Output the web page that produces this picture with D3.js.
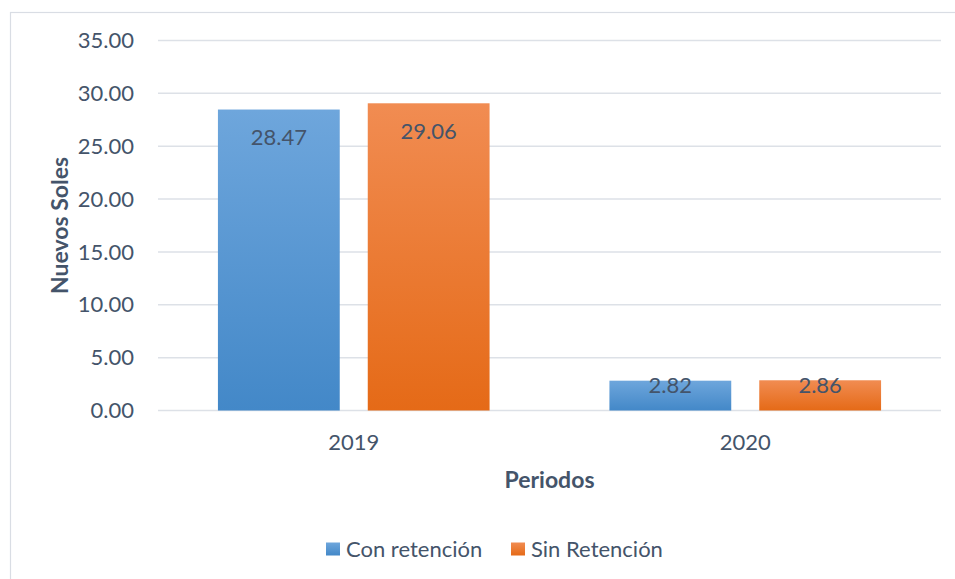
<html>
<head>
<meta charset="utf-8">
<script src="https://d3js.org/d3.v7.min.js"></script>
<style>
  body { margin: 0; background: #fff; }
  text { font-family: Lato, "Open Sans", sans-serif; fill: #44546a; }
</style>
</head>
<body>
<div id="chart"></div>
<script>
  var periods = ["2019", "2020"];
  var series = ["Con retención", "Sin Retención"];
  var conRetencion = [28.47, 2.82];
  var sinRetencion = [29.06, 2.86];
  var yTicks = [0, 5, 10, 15, 20, 25, 30, 35];

  var W = 955, H = 579;
  var margin = { top: 40.5, right: 14, bottom: 168.5, left: 158 };
  var width = W - margin.left - margin.right;
  var height = H - margin.top - margin.bottom;

  var svg = d3.select("#chart").append("svg")
    .attr("width", W).attr("height", H);

  // chart frame
  svg.append("rect")
    .attr("x", 10.5).attr("y", 12.5)
    .attr("width", 990).attr("height", 700)
    .attr("fill", "none").attr("stroke", "#d9dde4").attr("stroke-width", 1.2);

  var defs = svg.append("defs");
  var grads = [["gBlue", "#6ea6dc", "#4388c8"], ["gOrange", "#f18c52", "#e56a17"]];
  grads.forEach(function (g) {
    var lg = defs.append("linearGradient").attr("id", g[0])
      .attr("x1", 0).attr("y1", 0).attr("x2", 0).attr("y2", 1);
    lg.append("stop").attr("offset", "0%").attr("stop-color", g[1]);
    lg.append("stop").attr("offset", "100%").attr("stop-color", g[2]);
  });
  var fills = ["url(#gBlue)", "url(#gOrange)"];

  var g = svg.append("g").attr("transform", "translate(" + margin.left + "," + margin.top + ")");

  var x0 = d3.scaleBand().domain(periods).range([0, width]);
  var x1 = d3.scaleBand().domain(series).range([0, x0.bandwidth()])
    .paddingInner(0.187).paddingOuter(0.4);
  var y = d3.scaleLinear().domain([0, 35]).range([height, 0]);

  // gridlines
  g.selectAll(".grid").data(yTicks).enter().append("line")
    .attr("x1", 0).attr("x2", width)
    .attr("y1", function (d) { return y(d); })
    .attr("y2", function (d) { return y(d); })
    .attr("stroke", "#dde1e7").attr("stroke-width", 1.5);

  // y tick labels
  g.selectAll(".ytick").data(yTicks).enter().append("text")
    .attr("x", -24).attr("y", function (d) { return y(d); })
    .attr("dy", "0.35em")
    .attr("text-anchor", "end")
    .style("font-size", "22px")
    .text(function (d) { return d3.format(".2f")(d); });

  var rows = periods.map(function (p, i) {
    return { period: p, values: [conRetencion[i], sinRetencion[i]] };
  });

  var groups = g.selectAll(".grp").data(rows).enter().append("g")
    .attr("transform", function (d) { return "translate(" + x0(d.period) + ",0)"; });

  var bars = groups.selectAll(".bar")
    .data(function (d) { return d.values.map(function (v, j) { return { s: series[j], v: v, j: j }; }); })
    .enter();

  bars.append("rect")
    .attr("x", function (d) { return x1(d.s); })
    .attr("width", x1.bandwidth())
    .attr("y", function (d) { return y(d.v); })
    .attr("height", function (d) { return height - y(d.v); })
    .attr("fill", function (d) { return fills[d.j]; });

  bars.append("text")
    .attr("x", function (d) { return x1(d.s) + x1.bandwidth() / 2; })
    .attr("y", function (d) { return y(d.v) + Math.min(28, (height - y(d.v)) / 6); })
    .attr("dy", "0.35em")
    .attr("text-anchor", "middle")
    .style("font-size", "22px")
    .text(function (d) { return d.v.toFixed(2); });

  // x category labels
  g.selectAll(".xtick").data(periods).enter().append("text")
    .attr("x", function (d) { return x0(d) + x0.bandwidth() / 2; })
    .attr("y", height + 32).attr("dy", "0.35em")
    .attr("text-anchor", "middle")
    .style("font-size", "22px")
    .text(function (d) { return d; });

  // axis titles
  g.append("text")
    .attr("x", width / 2).attr("y", height + 69).attr("dy", "0.35em")
    .attr("text-anchor", "middle")
    .style("font-size", "23px").style("font-weight", "bold")
    .text("Periodos");

  g.append("text")
    .attr("transform", "translate(" + (60 - margin.left) + "," + (height / 2) + ") rotate(-90)")
    .attr("dy", "0.35em")
    .attr("text-anchor", "middle")
    .style("font-size", "23px").style("font-weight", "bold")
    .text("Nuevos Soles");

  // legend
  var legendX = [326, 511];
  var lg = svg.selectAll(".leg").data(series).enter().append("g")
    .attr("transform", function (d, i) { return "translate(" + legendX[i] + ",549)"; });
  lg.append("rect").attr("x", 0).attr("y", -6.5).attr("width", 14).attr("height", 13)
    .attr("fill", function (d, i) { return fills[i]; });
  lg.append("text").attr("x", 20).attr("dy", "0.35em")
    .style("font-size", "22px")
    .text(function (d) { return d; });
</script>
</body>
</html>
